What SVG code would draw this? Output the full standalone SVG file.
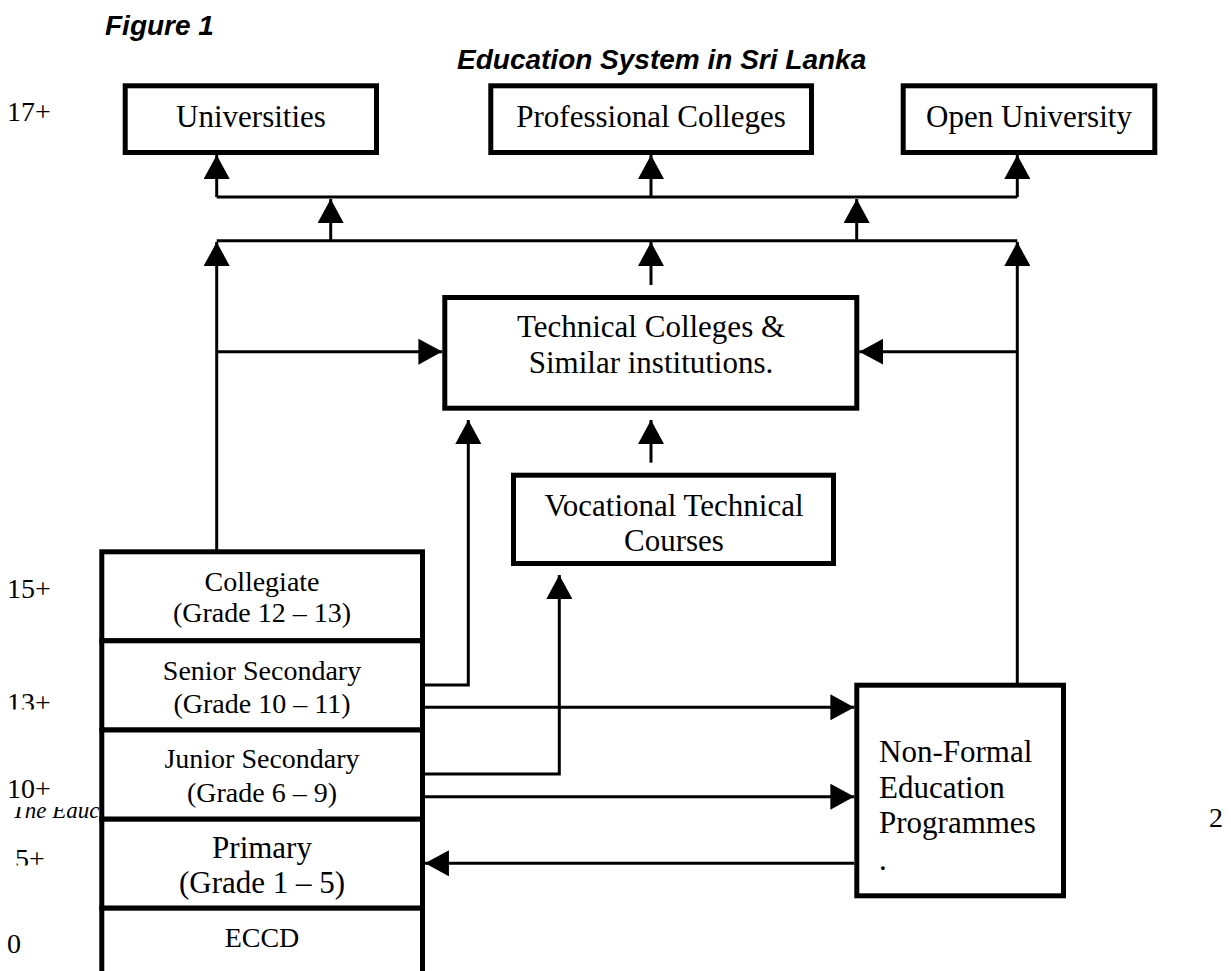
<svg xmlns="http://www.w3.org/2000/svg" width="1231" height="971" viewBox="0 0 1231 971">
<style>
.box{fill:#fff;stroke:#000;stroke-width:5}
.ln{fill:none;stroke:#000;stroke-width:3}
.t{font-family:"Liberation Serif","Times New Roman",serif;font-size:31px;fill:#000}
.s{font-size:28px}
.m{text-anchor:middle}
.h{font-family:"Liberation Sans",Arial,sans-serif;font-weight:bold;font-style:italic;font-size:28px;fill:#000}
</style>
<defs>
<marker id="ah" markerUnits="userSpaceOnUse" markerWidth="24" markerHeight="26" viewBox="0 0 23 25" refX="23" refY="12.5" orient="auto">
<path d="M0,0 L23,12.5 L0,25 Z" fill="#000"/>
</marker>
<clipPath id="c13"><rect x="0" y="680" width="99" height="29.5"/></clipPath>
<clipPath id="c5"><rect x="0" y="835" width="99" height="30.5"/></clipPath>
<clipPath id="cTE"><rect x="0" y="807" width="99" height="20"/></clipPath>
</defs>

<g id="labels">
<text class="h" x="105" y="35">Figure 1</text>
<text class="h" x="457" y="69">Education System in Sri Lanka</text>
<text class="t s" x="7" y="121">17+</text>
<text class="t s" x="7" y="598">15+</text>
<text class="t s" x="7" y="712" clip-path="url(#c13)">13+</text>
<text class="t s" x="7" y="798">10+</text>
<text class="t" x="12" y="818.3" style="font-style:italic;font-size:23px" clip-path="url(#cTE)">The Educ</text>
<text class="t s" x="15" y="868" clip-path="url(#c5)">5+</text>
<text class="t s" x="7" y="953">0</text>
<text class="t s" x="1209" y="827">2</text>
</g>

<g id="connectors">
<path class="ln" d="M216.7,197 H1017.3"/>
<path class="ln" d="M216.7,197 V155" marker-end="url(#ah)"/>
<path class="ln" d="M651,197 V155" marker-end="url(#ah)"/>
<path class="ln" d="M1017.3,197 V155" marker-end="url(#ah)"/>
<path class="ln" d="M216.7,240.7 H1017.3"/>
<path class="ln" d="M330.7,240.7 V199" marker-end="url(#ah)"/>
<path class="ln" d="M856.7,240.7 V199" marker-end="url(#ah)"/>
<path class="ln" d="M216.7,551 V242" marker-end="url(#ah)"/>
<path class="ln" d="M1017.3,683 V242" marker-end="url(#ah)"/>
<path class="ln" d="M651,285 V242" marker-end="url(#ah)"/>
<path class="ln" d="M216.7,351.7 H442.3" marker-end="url(#ah)"/>
<path class="ln" d="M1017.3,351.7 H859.3" marker-end="url(#ah)"/>
<path class="ln" d="M425,685 H468.3 V420" marker-end="url(#ah)"/>
<path class="ln" d="M651,462.7 V420" marker-end="url(#ah)"/>
<path class="ln" d="M425,774 H559.3 V575" marker-end="url(#ah)"/>
<path class="ln" d="M425,707.3 H854.3" marker-end="url(#ah)"/>
<path class="ln" d="M425,796.7 H854.3" marker-end="url(#ah)"/>
<path class="ln" d="M854.3,863.3 H425" marker-end="url(#ah)"/>
</g>

<g id="universities">
<rect class="box" x="125.2" y="85.8" width="251.3" height="66.7"/>
<text class="t m" x="251" y="127">Universities</text>
</g>
<g id="professional">
<rect class="box" x="490.8" y="85.8" width="320.7" height="66.7"/>
<text class="t m" x="651" y="127">Professional Colleges</text>
</g>
<g id="open">
<rect class="box" x="903.2" y="85.8" width="251.6" height="66.7"/>
<text class="t m" x="1029" y="127">Open University</text>
</g>
<g id="technical">
<rect class="box" x="444.8" y="297.5" width="412" height="110.7"/>
<text class="t m" x="651" y="337">Technical Colleges &amp;</text>
<text class="t m" x="651" y="373">Similar institutions.</text>
</g>
<g id="vocational">
<rect class="box" x="513.5" y="475.2" width="320" height="88.3"/>
<text class="t m" x="674" y="515.5">Vocational Technical</text>
<text class="t m" x="674" y="550.5">Courses</text>
</g>
<g id="nfe">
<rect class="box" x="856.8" y="685.2" width="206.7" height="210.6"/>
<text class="t" x="879" y="761.5">Non-Formal</text>
<text class="t" x="879" y="797.5">Education</text>
<text class="t" x="879" y="833">Programmes</text>
<text class="t" x="879" y="870">.</text>
</g>
<g id="collegiate">
<rect class="box" x="101.8" y="551.8" width="320.7" height="89"/>
<text class="t s m" x="262" y="591">Collegiate</text>
<text class="t s m" x="262" y="622">(Grade 12 – 13)</text>
</g>
<g id="senior">
<rect class="box" x="101.8" y="640.8" width="320.7" height="89.2"/>
<text class="t s m" x="262" y="680">Senior Secondary</text>
<text class="t s m" x="262" y="713">(Grade 10 – 11)</text>
</g>
<g id="junior">
<rect class="box" x="101.8" y="730" width="320.7" height="89.2"/>
<text class="t s m" x="262" y="768">Junior Secondary</text>
<text class="t s m" x="262" y="801.5">(Grade 6 – 9)</text>
</g>
<g id="primary">
<rect class="box" x="101.8" y="819.2" width="320.7" height="89"/>
<text class="t m" x="262" y="858">Primary</text>
<text class="t m" x="262" y="893">(Grade 1 – 5)</text>
</g>
<g id="eccd">
<rect class="box" x="101.8" y="908.2" width="320.7" height="80"/>
<text class="t s m" x="262" y="946.5">ECCD</text>
</g>
</svg>
